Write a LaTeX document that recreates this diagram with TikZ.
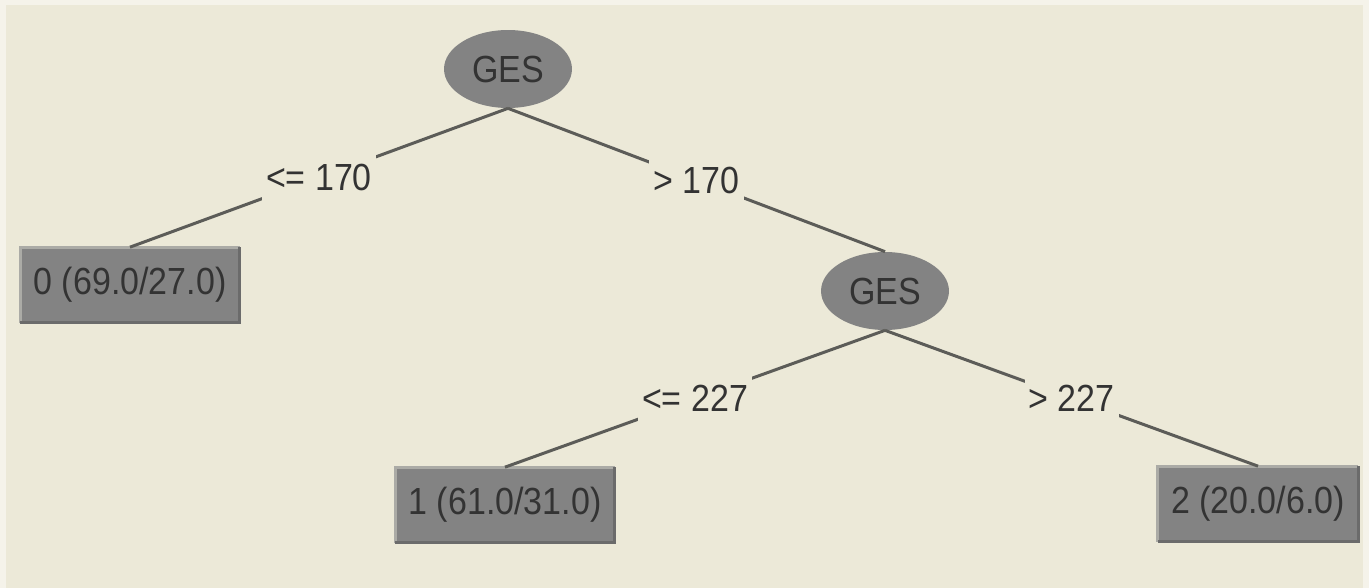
\documentclass[tikz,border=0pt]{standalone}
\usepackage{fontspec}
\setmainfont[FakeStretch=0.9]{Liberation Sans}
\usetikzlibrary{shapes.geometric}

\definecolor{panel}{HTML}{ECE9D8}
\definecolor{rim}{HTML}{F5F3EA}
\definecolor{nodegray}{HTML}{838383}
\definecolor{branchgray}{HTML}{5C5C58}
\definecolor{lightedge}{HTML}{ABABA6}
\definecolor{darkedge}{HTML}{6B6B6B}

\begin{document}
\begin{tikzpicture}[x=0.02cm, y=-0.02cm,
  every node/.style={font=\fontsize{21.5}{26}\selectfont, text=black!80},
  split/.style={ellipse, fill=nodegray, minimum width=2.56cm, minimum height=1.56cm, inner sep=0pt},
  leaf/.style={rectangle, fill=nodegray, minimum height=1.5cm, inner xsep=0.26cm},
  cond/.style={fill=panel, inner xsep=0.08cm, inner ysep=0pt, minimum height=0.92cm},
  branch/.style={draw=branchgray, line width=0.06cm}]

  % Hintergrund
  \fill[rim] (0,0) rectangle (1369,588);
  \fill[panel] (6,5) rectangle (1363,588);

  % Knoten
  \node[split] (root) at (508,69) {GES};
  \node[split] (ges2) at (885,291) {GES};
  \node[leaf] (leaf0) at (130,285) {0 (69.0/27.0)};
  \node[leaf] (leaf1) at (505,505) {1 (61.0/31.0)};
  \node[leaf] (leaf2) at (1258,504) {2 (20.0/6.0)};

  % Blätter mit 3D-Rand
  \foreach \n in {leaf0,leaf1,leaf2} {
    \draw[draw=lightedge, line width=0.06cm] (\n.south west) -- (\n.north west) -- (\n.north east);
    \draw[draw=darkedge, line width=0.06cm] (\n.north east) -- (\n.south east) -- (\n.south west);
  }

  % Kanten mit Bedingungen
  \draw[branch] (root.south) -- node[cond] {<= 170} (leaf0.north);
  \draw[branch] (root.south) -- node[cond] {> 170} (ges2.north);
  \draw[branch] (ges2.south) -- node[cond] {<= 227} (leaf1.north);
  \draw[branch] (ges2.south) -- node[cond] {> 227} (leaf2.north);
\end{tikzpicture}
\end{document}
